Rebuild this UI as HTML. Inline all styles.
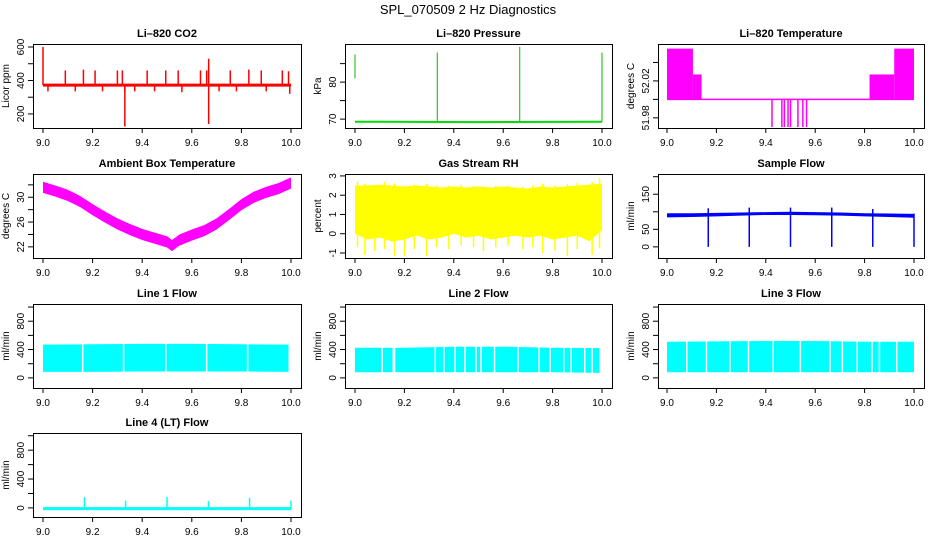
<!DOCTYPE html>
<html><head><meta charset="utf-8"><style>
body{margin:0;background:#fff}
svg{display:block;font-family:"Liberation Sans",sans-serif}
.t{font-size:11px;font-weight:bold;text-anchor:middle}
.tk{font-size:10px;text-anchor:middle}
.yl{font-size:10px;text-anchor:middle}
</style></head><body>
<svg id="c" width="936" height="540" viewBox="0 0 936 540">
<rect width="936" height="540" fill="#fff"/>
<text x="468" y="14" font-size="13" text-anchor="middle">SPL_070509  2 Hz Diagnostics</text>
</svg>
<script>
// ---- data arrays ----
const xTicks = [9.0, 9.2, 9.4, 9.6, 9.8, 10.0];
const xTickLabels = ["9.0","9.2","9.4","9.6","9.8","10.0"];
// CO2
const co2LineX = [9.0, 10.0];
const co2LineY = [372, 372];
const co2SpikeX = [9.09,9.163,9.21,9.30,9.32,9.42,9.495,9.545,9.635,9.66,9.755,9.83,9.88,9.965,9.99,9.0,9.33,9.668,9.668,9.33,9.02,9.13,9.24,9.37,9.45,9.56,9.71,9.78,9.9,9.995];
const co2SpikeY = [460,465,460,460,460,460,460,460,460,460,460,465,460,460,455,600,125,530,140,330,335,335,335,335,335,330,335,335,335,320];
// Pressure
const presLineX = [9.0, 9.5, 10.0];
const presLineY = [69.3, 69.2, 69.3];
const presSpikeX = [9.333, 9.667, 10.0];
const presSpikeY = [88.0, 89.5, 88.0];
const presSegX = [9.0];
const presSegLo = [81.0];
const presSegHi = [87.5];
// Li-820 temperature
const tempBlockX0 = [9.0, 9.105, 9.82, 9.92];
const tempBlockX1 = [9.105, 9.14, 9.92, 10.0];
const tempBlockHi = [52.055, 52.027, 52.027, 52.055];
const tempBase = [52.0];
const tempSpikeX = [9.425,9.465,9.475,9.49,9.50,9.53,9.55,9.565];
const tempSpikeY = [51.97,51.97,51.97,51.97,51.97,51.97,51.97,51.97];
// Ambient box temperature
const ambX = [9.0,9.05,9.1,9.15,9.2,9.25,9.3,9.35,9.4,9.45,9.5,9.52,9.55,9.6,9.65,9.7,9.75,9.8,9.85,9.9,9.95,10.0];
const ambMid = [31.6,31.0,30.3,29.3,28.0,26.8,25.7,24.8,24.0,23.4,22.8,22.2,23.1,23.9,24.6,25.7,27.2,28.8,30.0,30.8,31.4,32.3];
const ambHalf = [0.9];
// RH
const rhX = [9.0,9.05,9.1,9.15,9.2,9.25,9.3,9.35,9.4,9.45,9.5,9.55,9.6,9.65,9.7,9.75,9.8,9.85,9.9,9.95,10.0];
const rhLo = [0.0,-0.3,-0.2,-0.4,-0.3,-0.1,-0.3,-0.2,0.0,-0.2,-0.1,-0.3,-0.2,-0.1,-0.2,-0.1,-0.3,-0.2,-0.1,-0.4,0.2];
const rhHi = [2.5,2.5,2.55,2.5,2.45,2.5,2.45,2.4,2.45,2.4,2.45,2.4,2.45,2.4,2.35,2.45,2.4,2.45,2.5,2.55,2.6];
const rhSpikeX = [9.01,9.04,9.08,9.12,9.16,9.2,9.24,9.29,9.33,9.38,9.43,9.48,9.52,9.57,9.62,9.68,9.72,9.76,9.81,9.86,9.9,9.96,9.99];
const rhSpikeY = [-0.7,-1.1,-0.9,-0.8,-1.15,-1.15,-0.8,-1.15,-0.7,-0.8,-0.6,-0.7,-0.9,-0.7,-0.6,-0.8,-0.7,-1.0,-0.9,-1.15,-0.8,-1.1,-0.75];
const rhSpikeTop = [2.7,2.6,2.5,2.7,2.6,2.5,2.55,2.6,2.5,2.5,2.55,2.5,2.45,2.5,2.5,2.45,2.5,2.6,2.5,2.6,2.65,2.7,2.9];
// Sample flow
const sfX = [9.0,9.1,9.2,9.3,9.4,9.5,9.6,9.7,9.8,9.9,10.0];
const sfLo = [84,85,87,89,91,91,90,89,87,85,83];
const sfHi = [96,96,97,98,99,100,99,98,96,95,94];
const sfDropX = [9.167,9.333,9.5,9.667,9.833,10.0];
const sfDropTop = [110,112,112,112,108,95];
const sfDropBot = [0,0,0,0,0,0];
// Line flows
const l1X = [9.0,9.2,9.4,9.6,9.8,9.99];
const l1Lo = [85,85,90,90,90,85];
const l1Hi = [470,475,480,480,475,470];
const l1Gaps = [9.16,9.325,9.495,9.66,9.825];
const l2X = [9.0,9.2,9.4,9.6,9.8,9.99];
const l2Lo = [80,80,80,80,80,70];
const l2Hi = [425,425,440,440,425,420];
const l2Gaps = [9.11,9.155,9.16,9.325,9.36,9.405,9.445,9.49,9.51,9.565,9.66,9.745,9.79,9.845,9.875,9.93,9.96];
const l3X = [9.0,9.2,9.4,9.6,9.8,10.0];
const l3Lo = [80,80,80,80,80,80];
const l3Hi = [510,515,520,520,510,510];
const l3Gaps = [9.08,9.16,9.255,9.33,9.43,9.54,9.66,9.71,9.77,9.83,9.86,9.93];
const l4LineX = [9.0,10.0];
const l4LineY = [-10,-10];
const l4SpikeX = [9.167,9.333,9.5,9.667,9.833,10.0];
const l4SpikeY = [150,100,150,95,140,100];

// ---- layout ----
const svg = document.getElementById('c');
const NS = 'http://www.w3.org/2000/svg';
const cols = [{b0:33,b1:301,x9:43,x10:291},{b0:345,b1:612,x9:355,x10:602},{b0:658,b1:924,x9:667,x10:914}];
const rows = [44,174,304,433];
const H = 84;
function mk(tag, attrs, parent){const e=document.createElementNS(NS,tag);for(const k in attrs)e.setAttribute(k,attrs[k]);(parent||svg).appendChild(e);return e;}

function panel(name, r, c, title, ylab, yMin, yMax, ticks, labels){
  const col=cols[c], top=rows[r], bot=top+H;
  const g=mk('g',{});
  
  
  const X=v=>col.x9+(v-9)*(col.x10-col.x9);
  const Y=v=>bot-(v-yMin)/(yMax-yMin)*H;
  const t=mk('text',{x:(col.b0+col.b1)/2,y:top-7,class:'t'},g);t.textContent=title;
  
  
  const yl=mk('text',{x:0,y:0,class:'yl',transform:`translate(${col.b0-24},${(top+bot)/2}) rotate(-90)`},g);yl.textContent=ylab;
  
  
  const ax=mk('g',{stroke:'#000','stroke-width':1},g);
  
  
  mk('line',{x1:X(9),x2:X(10),y1:bot+0.5,y2:bot+0.5},ax);
  xTicks.forEach((v,i)=>{mk('line',{x1:X(v),x2:X(v),y1:bot,y2:bot+5},ax);
    const tx=mk('text',{x:X(v),y:bot+18,class:'tk',stroke:'none'},ax);tx.textContent=xTickLabels[i];});
  const ay=mk('g',{stroke:'#000','stroke-width':1},g);
  
  
  ticks.forEach(v=>{mk('line',{x1:col.b0-5,x2:col.b0,y1:Y(v),y2:Y(v)},ay);});
  labels.forEach(v=>{const tx=mk('text',{x:0,y:0,class:'yl',stroke:'none',transform:`translate(${col.b0-9},${Y(v)}) rotate(-90)`},ay);tx.textContent=String(v);});
  const data=mk('g',{},g);
  
  
  const box=mk('rect',{x:col.b0+0.5,y:top+0.5,width:col.b1-col.b0,height:H,fill:'none',stroke:'#000'},g);
  
  
  return {X,Y,g:data};
}
function line(p,xs,ys,col,w){mk('polyline',{points:xs.map((x,i)=>p.X(x)+','+p.Y(ys[i])).join(' '),fill:'none',stroke:col,'stroke-width':w},p.g);}
function vl(p,x,y0,y1,col,w){mk('line',{x1:p.X(x),x2:p.X(x),y1:p.Y(y0),y2:p.Y(y1),stroke:col,'stroke-width':w},p.g);}
function band(p,xs,lo,hi,col){const pts=xs.map((x,i)=>p.X(x)+','+p.Y(hi[i])).concat(xs.slice().reverse().map((x,j)=>{const i=xs.length-1-j;return p.X(x)+','+p.Y(lo[i]);}));mk('polygon',{points:pts.join(' '),fill:col},p.g);}

// CO2
let p=panel('co2-panel',0,0,'Li\u2013820 CO2','Licor ppm',116,618,[200,300,400,500,600],[200,400,600]);
line(p,co2LineX,co2LineY,'#ff0000',3);
co2SpikeX.forEach((x,i)=>vl(p,x,co2LineY[0],co2SpikeY[i],'#ff0000',1.5));
// Pressure
p=panel('pressure-panel',0,1,'Li\u2013820 Pressure','kPa',67.6,90.3,[70,75,80,85],[70,80]);
line(p,presLineX,presLineY,'#00dd00',2);
presSpikeX.forEach((x,i)=>vl(p,x,presLineY[0],presSpikeY[i],'#00bb00',1));
presSegX.forEach((x,i)=>vl(p,x,presSegLo[i],presSegHi[i],'#00bb00',1));
// Temperature
p=panel('li820-temperature-panel',0,2,'Li\u2013820 Temperature','degrees C',51.969,52.060,[51.98,52.00,52.02,52.04],['51.98','52.02']);
tempBlockX0.forEach((x,i)=>{mk('rect',{x:p.X(x),y:p.Y(tempBlockHi[i]),width:p.X(tempBlockX1[i])-p.X(x),height:p.Y(tempBase[0])-p.Y(tempBlockHi[i]),fill:'#ff00ff'},p.g);});
line(p,[9.0,10.0],[tempBase[0],tempBase[0]],'#ff00ff',1.5);
tempSpikeX.forEach((x,i)=>vl(p,x,tempBase[0],tempSpikeY[i],'#ff00ff',1.5));
// Ambient
p=panel('ambient-temperature-panel',1,0,'Ambient Box Temperature','degrees C',20.2,33.75,[22,24,26,28,30,32],[22,26,30]);
band(p,ambX,ambMid.map(v=>v-ambHalf[0]),ambMid.map(v=>v+ambHalf[0]),'#ff00ff');
// RH
p=panel('rh-panel',1,1,'Gas Stream RH','percent',-1.26,3.1,[-1,0,1,2,3],[-1,0,1,2,3]);
band(p,rhX,rhLo,rhHi,'#ffff00');
rhSpikeX.forEach((x,i)=>{vl(p,x,0.5,rhSpikeY[i],'#ffff00',1.5);vl(p,x,2,rhSpikeTop[i],'#ffff00',1.5);});
// Sample flow
p=panel('sample-flow-panel',1,2,'Sample Flow','ml/min',-31.7,207.7,[0,50,100,150,200],[0,50,150]);
band(p,sfX,sfLo,sfHi,'#0000ff');
sfDropX.forEach((x,i)=>vl(p,x,sfDropBot[i],sfDropTop[i],'#0000ff',1.5));
// Line flows
const fT=[0,200,400,600,800,1000], fL=[0,400,800];
function flow(name,c,title,xs,lo,hi,gaps){
  const q=panel(name,2,c,title,'ml/min',-143,1043,fT,fL);
  band(q,xs,lo,hi,'#00ffff');
  gaps.forEach(x=>vl(q,x,lo[0]-20,hi[0]+40,'#ffffff',1.5));
}
flow('line1-flow-panel',0,'Line 1 Flow',l1X,l1Lo,l1Hi,l1Gaps);
flow('line2-flow-panel',1,'Line 2 Flow',l2X,l2Lo,l2Hi,l2Gaps);
flow('line3-flow-panel',2,'Line 3 Flow',l3X,l3Lo,l3Hi,l3Gaps);
// Line 4
p=panel('line4-flow-panel',3,0,'Line 4 (LT) Flow','ml/min',-126,1038,fT,fL);
line(p,l4LineX,l4LineY,'#00ffff',3);
l4SpikeX.forEach((x,i)=>vl(p,x,l4LineY[0],l4SpikeY[i],'#00ffff',1.5));
</script>
</body></html>
